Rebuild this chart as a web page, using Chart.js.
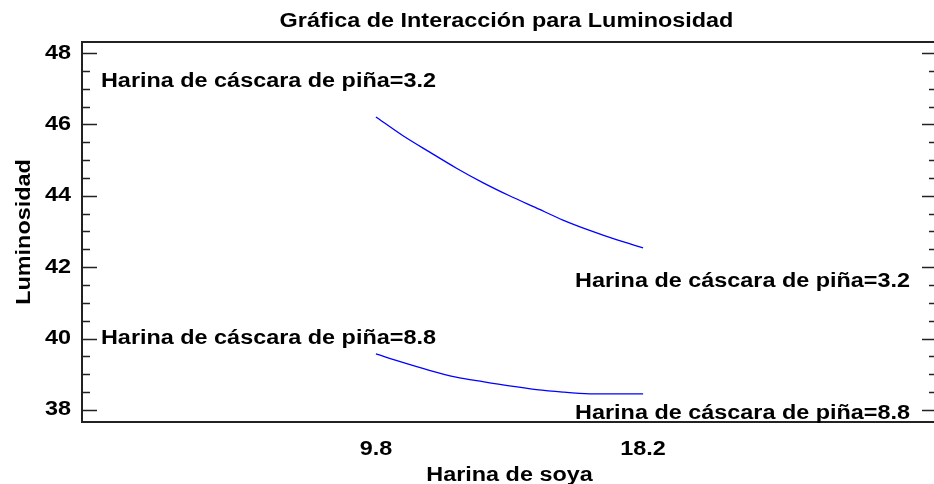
<!DOCTYPE html>
<html>
<head>
<meta charset="utf-8">
<script src="https://cdn.jsdelivr.net/npm/chart.js@4"></script>
<style>
  body { margin: 0; overflow: hidden; background: #fff; }
  #wrap { width: 950px; height: 484px; }
</style>
</head>
<body>
<div id="wrap"><canvas id="grafInteraccion" width="950" height="484"></canvas></div>
<script>
// datos
const soya = [9.8, 10.64, 11.48, 12.32, 13.16, 14.0, 14.84, 15.68, 16.52, 17.36, 18.2];
const lumPina32 = [46.21, 45.69, 45.23, 44.78, 44.37, 44.00, 43.66, 43.32, 43.03, 42.77, 42.54];
const lumPina88 = [39.57, 39.33, 39.11, 38.92, 38.79, 38.67, 38.57, 38.50, 38.45, 38.45, 38.45];
const niveles = ["3.2", "8.8"];
const yTicks = [38, 40, 42, 44, 46, 48];
const xTicks = [9.8, 18.2];

const titulo = "Gráfica de Interacción para Luminosidad";
const tituloX = "Harina de soya";
const tituloY = "Luminosidad";
const nombreFactor = "Harina de cáscara de piña";

const FUENTE = 'bold 20px "Liberation Sans", Arial, sans-serif';
const SX = 1.17; // el original tiene el texto un poco ancho

function texto(ctx, s, x, y, align, rot) {
  ctx.save();
  ctx.translate(x, y);
  if (rot) ctx.rotate(rot);
  ctx.scale(SX, 1);
  ctx.textAlign = align;
  ctx.fillText(s, 0, 0);
  ctx.restore();
}

/* marco, marcas y textos */
const decorado = {
  id: "decorado",
  afterDraw(chart) {
    const ctx = chart.ctx;
    const a = chart.chartArea;
    const xs = chart.scales.x;
    const ys = chart.scales.y;

    ctx.save();
    ctx.strokeStyle = "#222";
    ctx.lineWidth = 2;
    ctx.strokeRect(a.left, a.top, a.right - a.left, a.bottom - a.top);

    // marcas del eje y (hacia dentro, ambos lados)
    ctx.lineWidth = 1.6;
    for (let v = 38; v <= 48; v += 0.5) {
      const py = Math.round(ys.getPixelForValue(v)) + 0.5;
      const largo = v % 2 === 0 ? 15 : 8;
      ctx.beginPath();
      ctx.moveTo(a.left, py); ctx.lineTo(a.left + largo, py);
      ctx.moveTo(a.right, py); ctx.lineTo(a.right - largo, py);
      ctx.stroke();
    }

    ctx.fillStyle = "#000";
    ctx.font = FUENTE;
    ctx.textBaseline = "middle";
    yTicks.forEach(v => texto(ctx, String(v), a.left - 11, ys.getPixelForValue(v), "right"));

    ctx.textBaseline = "alphabetic";
    xTicks.forEach(v => texto(ctx, v.toFixed(1), xs.getPixelForValue(v), 455, "center"));

    texto(ctx, titulo, (a.left + a.right) / 2 - 3, 27, "center");
    texto(ctx, tituloX, (a.left + a.right) / 2, 481, "center");
    texto(ctx, tituloY, 30, (a.top + a.bottom) / 2, "center", -Math.PI / 2);

    // etiquetas de cada nivel en los extremos de las lineas
    const series = [lumPina32, lumPina88];
    const offIzq = [-30, -10];
    const offDer = [39, 25];
    series.forEach((s, i) => {
      const etiqueta = nombreFactor + "=" + niveles[i];
      const x0 = xs.getPixelForValue(soya[0]);
      const y0 = ys.getPixelForValue(s[0]);
      const x1 = xs.getPixelForValue(soya[soya.length - 1]);
      const y1 = ys.getPixelForValue(s[s.length - 1]);
      texto(ctx, etiqueta, x0 + 60, y0 + offIzq[i], "right");
      texto(ctx, etiqueta, x1 - 68, y1 + offDer[i], "left");
    });
    ctx.restore();
  }
};

new Chart(document.getElementById("grafInteraccion"), {
  type: "line",
  plugins: [decorado],
  data: {
    datasets: [lumPina32, lumPina88].map((s, i) => ({
      label: nombreFactor + "=" + niveles[i],
      data: soya.map((x, k) => ({ x: x, y: s[k] })),
      borderColor: "#0000ff",
      borderWidth: 1.3,
      pointRadius: 0,
      tension: 0.3,
      fill: false
    }))
  },
  options: {
    responsive: false,
    animation: false,
    layout: { padding: { left: 82, top: 42, right: 13, bottom: 62 } },
    plugins: { legend: { display: false }, tooltip: { enabled: false } },
    scales: {
      x: { type: "linear", min: 0.56, max: 27.44, display: false },
      y: { type: "linear", min: 37.66, max: 48.31, display: false }
    }
  }
});
</script>
</body>
</html>
